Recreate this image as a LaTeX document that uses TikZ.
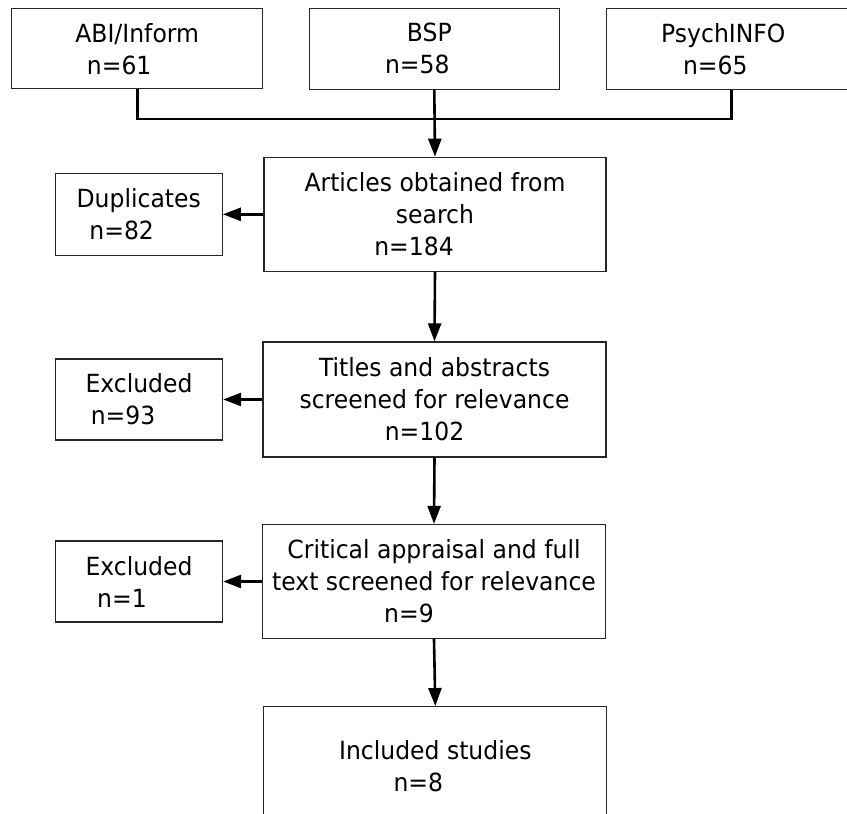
\documentclass[tikz,border=0pt]{standalone}
\usepackage{fontspec}
\setmainfont{DejaVu Sans}[FakeStretch=0.94]
\usetikzlibrary{arrows.meta}

\begin{document}
\begin{tikzpicture}[x=1pt,y=-1pt,
	box/.style={draw=black!85,line width=1.3pt,rectangle,inner sep=0pt,
	            align=center,font=\fontsize{25}{32}\selectfont},
	flow/.style={line width=2.6pt,-{Triangle[length=18pt,width=13pt]}}]

	\clip (0,0) rectangle (847,814);

	%databases
	\node[box,minimum width=251pt,minimum height=80pt] (abi) at (137.2,48.8) {ABI/Inform\\n=61\hspace*{36pt}};
	\node[box,minimum width=250pt,minimum height=81pt] (bsp) at (434.3,48.8) {BSP\hspace*{10pt}\\n=58\hspace*{34pt}};
	\node[box,minimum width=250pt,minimum height=81pt] (psych) at (731.3,48.8) {PsychINFO\hspace*{16pt}\\n=65\hspace*{32pt}};

	%main flow
	\node[box,minimum width=342pt,minimum height=114pt] (articles) at (435,214.3) {Articles obtained from\\search\\n=184\hspace*{42pt}};
	\node[box,minimum width=343pt,minimum height=115pt] (titles) at (434.5,399.5) {Titles and abstracts\\screened for relevance\\n=102\hspace*{20pt}};
	\node[box,minimum width=343pt,minimum height=114pt] (critical) at (434,581.5) {Critical appraisal and full\\text screened for relevance\\n=9\hspace*{50pt}};
	\node[box,minimum width=343pt,minimum height=118pt] (included) at (435.3,765.7) {Included studies\\n=8\hspace*{34pt}};

	%side boxes
	\node[box,minimum width=167pt,minimum height=82pt] (dup) at (138.7,214.3) {Duplicates\\n=82\hspace*{34pt}};
	\node[box,minimum width=167pt,minimum height=81pt] (excla) at (139,399.5) {Excluded\\n=93\hspace*{32pt}};
	\node[box,minimum width=167pt,minimum height=81pt] (exclb) at (139,581.5) {Excluded\\n=1\hspace*{34pt}};

	%joining the databases
	\coordinate (join) at (435,119);
	\draw[line width=2.6pt] (abi.south) |- (join) -| (psych.south);
	\draw[flow] (bsp.south) -- (articles.north);

	%arrows
	\draw[flow] (articles.west) -- (dup.east);
	\draw[flow] (articles.south) -- (titles.north);
	\draw[flow] (titles.west) -- (excla.east);
	\draw[flow] (titles.south) -- (critical.north);
	\draw[flow] (critical.west) -- (exclb.east);
	\draw[flow] (critical.south) -- (included.north);

\end{tikzpicture}
\end{document}
